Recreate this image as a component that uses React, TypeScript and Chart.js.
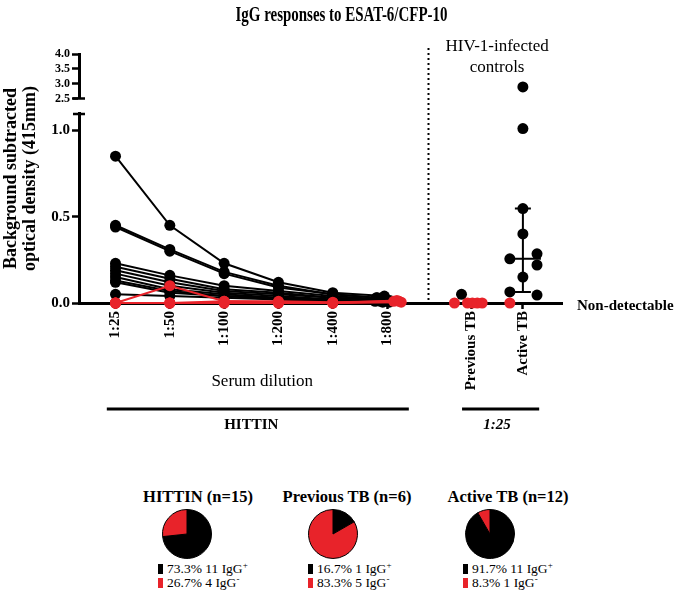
import React, { useEffect, useRef } from 'react';
import { Chart, registerables } from 'chart.js';
Chart.register(...registerables);

const FONT = '"Liberation Serif", "Times New Roman", serif';
const BLACK = '#000000';
const RED = '#E8232A';

const chartTitle = 'IgG responses to ESAT-6/CFP-10';
const yTitleLines = ['Background subtracted', 'optical density (415mm)'];
const dilutionLabels = ['1:25', '1:50', '1:100', '1:200', '1:400', '1:800'];
const dilutionPositions = [0, 1, 2, 3, 4, 5];
const groupLabels = ['Previous TB', 'Active TB'];
const groupPositions = [6.55, 7.5];
const dividerPosition = 5.75;
const yLowerTicks = [0, 0.5, 1.0];
const yUpperTicks = [2.5, 3.0, 3.5, 4.0];

// HITTIN IgG+ subjects (black): OD at 1:25 ... 1:800
const hittinPositive = [
  [0.85, 0.45, 0.23, 0.12, 0.06, 0.04],
  [0.45, 0.31, 0.18, 0.10, 0.05, 0.03],
  [0.44, 0.30, 0.17, 0.09, 0.05, 0.03],
  [0.23, 0.16, 0.10, 0.07, 0.04, 0.02],
  [0.21, 0.14, 0.08, 0.06, 0.03, 0.02],
  [0.19, 0.12, 0.07, 0.05, 0.03, 0.015],
  [0.17, 0.10, 0.06, 0.04, 0.02, 0.01],
  [0.15, 0.08, 0.05, 0.03, 0.02, 0.01],
  [0.13, 0.07, 0.04, 0.03, 0.015, 0.01],
  [0.12, 0.06, 0.04, 0.02, 0.01, 0.005],
  [0.05, 0.04, 0.03, 0.02, 0.01, 0.005],
];
const hittinPositive800Jitter = [-0.05, -0.2, -0.18, -0.1, -0.15, 0.05, -0.22, -0.12, 0.0, -0.08, 0.04];
// HITTIN IgG- subjects (red)
const hittinNegative = [
  [0.0, 0.10, 0.01, 0.01, 0.005, 0.01],
  [0.0, 0.0, 0.01, 0.005, 0.0, 0.015],
  [0.0, 0.0, 0.0, 0.0, 0.0, 0.01],
  [0.0, 0.0, 0.0, 0.0, 0.0, 0.005],
];
const hittinNegative800Jitter = [0.12, 0.18, 0.22, 0.26];

// HIV-1-infected controls at 1:25
const prevPositive = [0.05];
const prevPositiveJitter = [-0.18];
const prevNegative = [0, 0, 0, 0, 0];
const prevNegativeJitter = [-0.31, -0.07, 0.02, 0.11, 0.2];
const activePositive = [2.89, 1.01, 0.547, 0.40, 0.285, 0.256, 0.22, 0.15, 0.064, 0.046];
const activePositiveJitter = [0, 0, 0, 0, 0.26, -0.24, 0.26, 0, -0.24, 0.26];
const activeNegative = [0];
const activeNegativeJitter = [-0.24];
const activeMedian = 0.256;
const activeIQR = [0.064, 0.547];

// Pie summaries
const pieTitles = ['HITTIN (n=15)', 'Previous TB (n=6)', 'Active TB (n=12)'];
const piePositivePct = [73.3, 16.7, 91.7];
const pieNegativePct = [26.7, 83.3, 8.3];
const piePositiveN = [11, 1, 11];
const pieNegativeN = [4, 5, 1];

const breakValue = 2.5;

function labelFor(v: number): string {
  for (let i = 0; i < dilutionPositions.length; i++) if (Math.abs(v - dilutionPositions[i]) < 1e-6) return dilutionLabels[i];
  for (let i = 0; i < groupPositions.length; i++) if (Math.abs(v - groupPositions[i]) < 1e-6) return groupLabels[i];
  return '';
}

const pointStyle = (color: string) => ({
  borderColor: color,
  backgroundColor: color,
  pointBackgroundColor: color,
  pointBorderColor: color,
  pointRadius: 5.5,
  pointHoverRadius: 5.5,
  pointBorderWidth: 0,
  clip: false as any,
});

function lineDataset(vals: number[], jit800: number, color: string) {
  return {
    data: vals.map((v, i) => ({ x: dilutionPositions[i] + (i === dilutionPositions.length - 1 ? jit800 : 0), y: v })),
    showLine: true,
    borderWidth: 2,
    yAxisID: 'yLower',
    ...pointStyle(color),
  };
}

function groupDataset(vals: number[], jit: number[], center: number, color: string, axis: string) {
  return {
    data: vals.map((v, i) => ({ x: center + jit[i], y: v })),
    showLine: false,
    yAxisID: axis,
    ...pointStyle(color),
  };
}

const annotate = {
  id: 'annotate',
  beforeDatasetsDraw(chart: any) {
    const { ctx, chartArea, scales } = chart;
    const x = scales.x;
    const yl = scales.yLower;
    ctx.save();
    // dotted divider
    const dx = Math.round(x.getPixelForValue(dividerPosition)) + 0.5;
    ctx.strokeStyle = BLACK;
    ctx.lineWidth = 2;
    ctx.setLineDash([2, 3]);
    ctx.beginPath();
    ctx.moveTo(dx, 48);
    ctx.lineTo(dx, chartArea.bottom - 3);
    ctx.stroke();
    ctx.setLineDash([]);
    // median + IQR for Active TB
    const cx = x.getPixelForValue(groupPositions[1]);
    const yLo = yl.getPixelForValue(activeIQR[0]);
    const yHi = yl.getPixelForValue(activeIQR[1]);
    const yMed = yl.getPixelForValue(activeMedian);
    ctx.lineWidth = 2;
    ctx.beginPath();
    ctx.moveTo(cx, yLo); ctx.lineTo(cx, yHi);
    ctx.moveTo(cx - 8, yHi); ctx.lineTo(cx + 8, yHi);
    ctx.moveTo(cx - 8, yLo); ctx.lineTo(cx + 8, yLo);
    ctx.moveTo(cx - 18, yMed); ctx.lineTo(cx + 18, yMed);
    ctx.stroke();
    ctx.restore();
  },
  afterDraw(chart: any) {
    const { ctx, chartArea, scales, width } = chart;
    const x = scales.x;
    const yu = scales.yUpper;
    const yl = scales.yLower;
    ctx.save();
    ctx.fillStyle = BLACK;
    ctx.strokeStyle = BLACK;
    // title
    ctx.font = `bold 22px ${FONT}`;
    ctx.textAlign = 'center';
    ctx.textBaseline = 'middle';
    const tw = ctx.measureText(chartTitle).width;
    ctx.save();
    ctx.translate(width / 2, 15);
    ctx.scale(212 / tw, 1);
    ctx.fillText(chartTitle, 0, 0);
    ctx.restore();
    // y title
    ctx.save();
    ctx.font = `bold 18px ${FONT}`;
    ctx.translate(0, (chartArea.top + chartArea.bottom) / 2);
    ctx.rotate(-Math.PI / 2);
    ctx.fillText(yTitleLines[0], 0, 11);
    ctx.fillText(yTitleLines[1], 0, 30);
    ctx.restore();
    // axis break caps
    const ax = chartArea.left;
    ctx.lineWidth = 2.5;
    ctx.beginPath();
    ctx.moveTo(ax - 6, yu.bottom); ctx.lineTo(ax + 6, yu.bottom);
    ctx.moveTo(ax - 6, yl.top + 1); ctx.lineTo(ax + 6, yl.top + 1);
    ctx.stroke();
    // HIV-1-infected controls
    const gx = x.getPixelForValue((groupPositions[0] + groupPositions[1]) / 2);
    ctx.font = `17px ${FONT}`;
    ctx.fillText('HIV-1-infected', gx, 47);
    ctx.fillText('controls', gx, 68);
    // Non-detectable
    ctx.font = `bold 15px ${FONT}`;
    ctx.textAlign = 'left';
    ctx.fillText('Non-detectable', chartArea.right + 15, chartArea.bottom + 3);
    // Serum dilution
    ctx.textAlign = 'center';
    ctx.font = `17px ${FONT}`;
    ctx.fillText('Serum dilution', x.getPixelForValue(2.7), chartArea.bottom + 79);
    // group bars
    ctx.lineWidth = 3;
    ctx.beginPath();
    const lineY = chartArea.bottom + 106;
    ctx.moveTo(x.getPixelForValue(dilutionPositions[0] - 0.16), lineY);
    ctx.lineTo(x.getPixelForValue(dilutionPositions[5] + 0.4), lineY);
    ctx.moveTo(x.getPixelForValue(groupPositions[0] - 0.17), lineY);
    ctx.lineTo(x.getPixelForValue(groupPositions[1] + 0.3), lineY);
    ctx.stroke();
    ctx.font = `bold 15px ${FONT}`;
    ctx.fillText('HITTIN', x.getPixelForValue(2.5), chartArea.bottom + 122);
    ctx.font = `italic bold 15px ${FONT}`;
    ctx.fillText('1:25', x.getPixelForValue((groupPositions[0] + groupPositions[1]) / 2), chartArea.bottom + 122);
    ctx.restore();
  },
};

export default function App() {
  const mainRef = useRef<HTMLCanvasElement>(null);
  const pie0 = useRef<HTMLCanvasElement>(null);
  const pie1 = useRef<HTMLCanvasElement>(null);
  const pie2 = useRef<HTMLCanvasElement>(null);

  useEffect(() => {
    const charts: Chart[] = [];
    const datasets: any[] = [];
    hittinNegative.forEach((v, i) => datasets.push(lineDataset(v, hittinNegative800Jitter[i], RED)));
    datasets.push(groupDataset(prevNegative, prevNegativeJitter, groupPositions[0], RED, 'yLower'));
    datasets.push(groupDataset(activeNegative, activeNegativeJitter, groupPositions[1], RED, 'yLower'));
    datasets.push(groupDataset(prevPositive, prevPositiveJitter, groupPositions[0], BLACK, 'yLower'));
    const lowIdx = activePositive.map((v, i) => i).filter((i) => activePositive[i] < breakValue);
    const highIdx = activePositive.map((v, i) => i).filter((i) => activePositive[i] >= breakValue);
    datasets.push(groupDataset(lowIdx.map((i) => activePositive[i]), lowIdx.map((i) => activePositiveJitter[i]), groupPositions[1], BLACK, 'yLower'));
    datasets.push(groupDataset(highIdx.map((i) => activePositive[i]), highIdx.map((i) => activePositiveJitter[i]), groupPositions[1], BLACK, 'yUpper'));
    hittinPositive.forEach((v, i) => datasets.push(lineDataset(v, hittinPositive800Jitter[i], BLACK)));

    const tickFont = { family: FONT, weight: 'bold' as const, size: 15 };
    const axisGrid = { drawOnChartArea: false, drawTicks: true, tickLength: 7, tickWidth: 2.5, color: BLACK };
    const axisBorder = { display: true, color: BLACK, width: 3 };

    if (mainRef.current) {
      charts.push(new Chart(mainRef.current, {
        type: 'scatter',
        data: { datasets },
        plugins: [annotate],
        options: {
          responsive: false,
          animation: false,
          devicePixelRatio: 1,
          events: [],
          layout: { padding: { top: 54, right: 121, bottom: 0, left: 0 } },
          plugins: { legend: { display: false }, tooltip: { enabled: false }, title: { display: false } },
          scales: {
            x: {
              type: 'linear',
              min: -0.672,
              max: 8.22,
              afterBuildTicks: (s: any) => { s.ticks = [...dilutionPositions, ...groupPositions].map((v) => ({ value: v })); },
              afterFit: (s: any) => { s.height = 147; },
              ticks: { autoSkip: false, minRotation: 90, maxRotation: 90, color: BLACK, font: tickFont, padding: 2, callback: (v: any) => labelFor(Number(v)) },
              grid: { ...axisGrid, tickLength: 6 },
              border: axisBorder,
            },
            yLower: {
              type: 'linear',
              axis: 'y',
              position: 'left',
              stack: 'y',
              stackWeight: 190,
              min: 0,
              max: 1.1,
              afterBuildTicks: (s: any) => { s.ticks = yLowerTicks.map((v) => ({ value: v })); },
              afterFit: (s: any) => { s.width = 79; },
              ticks: { autoSkip: false, color: BLACK, font: tickFont, padding: 2, callback: (v: any) => Number(v).toFixed(1) },
              grid: axisGrid,
              border: axisBorder,
            },
            yGap: {
              type: 'linear',
              axis: 'y',
              position: 'left',
              stack: 'y',
              stackWeight: 14.5,
              display: false,
            },
            yUpper: {
              type: 'linear',
              axis: 'y',
              position: 'left',
              stack: 'y',
              stackWeight: 44.5,
              min: 2.5,
              max: 4.0,
              afterBuildTicks: (s: any) => { s.ticks = yUpperTicks.map((v) => ({ value: v })); },
              afterFit: (s: any) => { s.width = 79; },
              ticks: { autoSkip: false, color: BLACK, font: { ...tickFont, size: 12 }, padding: 2, callback: (v: any) => Number(v).toFixed(1) },
              grid: axisGrid,
              border: axisBorder,
            },
          } as any,
        },
      } as any));
    }

    [pie0, pie1, pie2].forEach((r, i) => {
      if (!r.current) return;
      charts.push(new Chart(r.current, {
        type: 'pie',
        data: {
          labels: ['IgG+', 'IgG-'],
          datasets: [{ data: [piePositivePct[i], pieNegativePct[i]], backgroundColor: [BLACK, RED], borderColor: BLACK, borderWidth: 1 }],
        },
        options: {
          responsive: false,
          animation: false,
          devicePixelRatio: 1,
          events: [],
          layout: { padding: 0 },
          plugins: { legend: { display: false }, tooltip: { enabled: false } },
        },
      } as any));
    });

    return () => charts.forEach((c) => c.destroy());
  }, []);

  const pieCenters = [187, 333, 490];
  const pieTitleCenters = [198, 347, 508];
  const legendX = [158, 308, 463];
  const pieRefs = [pie0, pie1, pie2];

  return (
    <div style={{ position: 'absolute', left: 0, top: 0, width: 683, height: 593, background: '#fff', fontFamily: FONT, color: BLACK }}>
      <canvas ref={mainRef} width={683} height={450} style={{ position: 'absolute', left: 0, top: 0, width: 683, height: 450 }} />
      {pieTitles.map((t, i) => (
        <div key={'t' + i} style={{ position: 'absolute', left: pieTitleCenters[i] - 100, width: 200, top: 487, textAlign: 'center', fontWeight: 'bold', fontSize: 16.5, lineHeight: '20px', whiteSpace: 'nowrap' }}>{t}</div>
      ))}
      {pieRefs.map((r, i) => (
        <canvas key={'p' + i} ref={r} width={50} height={50} style={{ position: 'absolute', left: pieCenters[i] - 25, top: 509, width: 50, height: 50 }} />
      ))}
      {pieTitles.map((t, i) => (
        <React.Fragment key={'l' + i}>
          <div style={{ position: 'absolute', left: legendX[i], top: 564, width: 5, height: 10, background: BLACK }} />
          <div style={{ position: 'absolute', left: legendX[i] + 9, top: 561, fontSize: 13.5, lineHeight: '16px', whiteSpace: 'nowrap' }}>
            {piePositivePct[i].toFixed(1)}% {piePositiveN[i]} IgG<sup style={{ fontSize: 9, lineHeight: 0 }}>+</sup>
          </div>
          <div style={{ position: 'absolute', left: legendX[i], top: 578, width: 5, height: 10, background: RED }} />
          <div style={{ position: 'absolute', left: legendX[i] + 9, top: 575, fontSize: 13.5, lineHeight: '16px', whiteSpace: 'nowrap' }}>
            {pieNegativePct[i].toFixed(1)}% {pieNegativeN[i]} IgG<sup style={{ fontSize: 9, lineHeight: 0 }}>-</sup>
          </div>
        </React.Fragment>
      ))}
    </div>
  );
}
